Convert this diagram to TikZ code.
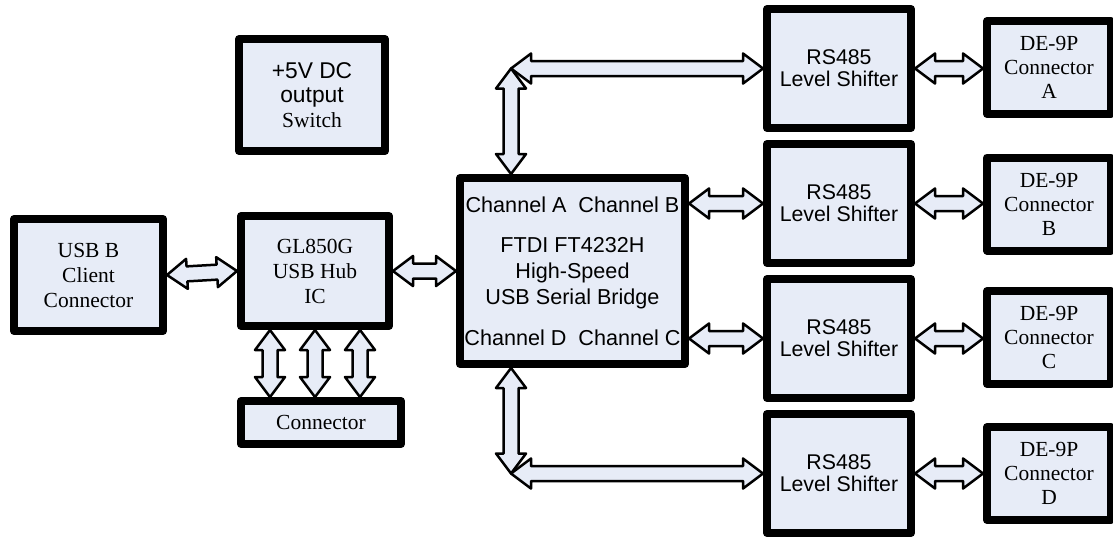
\documentclass[tikz,border=0pt]{standalone}
\usepackage{fontspec}
\setmainfont{Liberation Serif}
\newfontfamily\arialfont{Liberation Sans}
\usetikzlibrary{calc}
\definecolor{boxfill}{RGB}{231,236,247}

\begin{document}
\begin{tikzpicture}[
    x=1pt, y=-1pt,
    box/.style={draw, line width=8pt, line join=round, fill=boxfill, align=center, inner sep=2pt},
    serifbox/.style={box, font={\fontsize{21.5}{25}\selectfont}},
    sansbox/.style={box, font={\arialfont\fontsize{21.3}{22}\selectfont}},
    bus/.style={draw=black, fill=boxfill, line width=2.5pt, line join=round,
        to path={
            -- ($(\tikztostart)!20pt!(\tikztotarget)!15pt!90:(\tikztotarget)$)
            -- ($(\tikztostart)!20pt!(\tikztotarget)!7.5pt!90:(\tikztotarget)$)
            -- ($(\tikztotarget)!20pt!(\tikztostart)!7.5pt!-90:(\tikztostart)$)
            -- ($(\tikztotarget)!20pt!(\tikztostart)!15pt!-90:(\tikztostart)$)
            -- (\tikztotarget)
            -- ($(\tikztotarget)!20pt!(\tikztostart)!15pt!90:(\tikztostart)$)
            -- ($(\tikztotarget)!20pt!(\tikztostart)!7.5pt!90:(\tikztostart)$)
            -- ($(\tikztostart)!20pt!(\tikztotarget)!7.5pt!-90:(\tikztotarget)$)
            -- ($(\tikztostart)!20pt!(\tikztotarget)!15pt!-90:(\tikztotarget)$)
            -- cycle}}
]
\useasboundingbox (0,0) rectangle (1113,536);
\clip (0,0) rectangle (1113,536);

% USB side
\node[serifbox, minimum width=149pt, minimum height=112pt] (usbb) at (88.5,275) {USB B\\Client\\Connector};
\node[serifbox, minimum width=148pt, minimum height=110pt] (hub) at (315,271) {GL850G\\USB Hub\\IC};
\node[serifbox, minimum width=160pt, minimum height=43pt] (conn) at (321,422.5) {Connector};
\node[serifbox, minimum width=146pt, minimum height=112pt, font={\fontsize{21.5}{24.7}\selectfont}] (pwr) at (312,95)
    {{\arialfont\fontsize{22.8}{24.7}\selectfont +5V DC}\\{\arialfont\fontsize{22.8}{24.7}\selectfont output}\\Switch};

% FTDI bridge
\node[sansbox, minimum width=225pt, minimum height=186pt, font={\arialfont\fontsize{21.6}{26}\selectfont}] (ftdi) at (572.5,271)
    {Channel A~~Channel B\\[14pt]FTDI FT4232H\\High-Speed\\USB Serial Bridge\\[15pt]Channel D~~Channel C};

% RS485 level shifters
\node[sansbox, minimum width=144pt, minimum height=119pt] (rsA) at (839,68.5) {RS485\\Level Shifter};
\node[sansbox, minimum width=144pt, minimum height=119pt] (rsB) at (839,203.5) {RS485\\Level Shifter};
\node[sansbox, minimum width=144pt, minimum height=119pt] (rsC) at (839,338.5) {RS485\\Level Shifter};
\node[sansbox, minimum width=144pt, minimum height=119pt] (rsD) at (839,473.5) {RS485\\Level Shifter};

% DE-9P connectors
\node[serifbox, minimum width=124pt, minimum height=93pt, font={\fontsize{21.5}{24}\selectfont}] (deA) at (1049,67.5) {DE-9P\\Connector\\A};
\node[serifbox, minimum width=124pt, minimum height=93pt, font={\fontsize{21.5}{24}\selectfont}] (deB) at (1049,204) {DE-9P\\Connector\\B};
\node[serifbox, minimum width=124pt, minimum height=93pt, font={\fontsize{21.5}{24}\selectfont}] (deC) at (1049,337.5) {DE-9P\\Connector\\C};
\node[serifbox, minimum width=124pt, minimum height=93pt, font={\fontsize{21.5}{24}\selectfont}] (deD) at (1049,473.5) {DE-9P\\Connector\\D};

% Corner points
\coordinate (cA) at (511,68.5);
\coordinate (cD) at (511,473.5);
\coordinate (h1) at ([xshift=-45pt]hub.south);
\coordinate (h2) at (hub.south);
\coordinate (h3) at ([xshift=45pt]hub.south);

% Buses
\draw[bus] (usbb.east) to (hub.west);
\draw[bus] (hub.east) to (hub.east -| ftdi.west);
\draw[bus] (h1) to (h1 |- conn.north);
\draw[bus] (h2) to (h2 |- conn.north);
\draw[bus] (h3) to (h3 |- conn.north);

\draw[bus] (cA |- ftdi.north) to (cA);
\draw[bus] (cA) to (rsA.west);
\draw[bus] (ftdi.east |- rsB.west) to (rsB.west);
\draw[bus] (ftdi.east |- rsC.west) to (rsC.west);
\draw[bus] (cD |- ftdi.south) to (cD);
\draw[bus] (cD) to (rsD.west);

\draw[bus] (rsA.east) to (rsA.east -| deA.west);
\draw[bus] (rsB.east) to (rsB.east -| deB.west);
\draw[bus] (rsC.east) to (rsC.east -| deC.west);
\draw[bus] (rsD.east) to (rsD.east -| deD.west);

\end{tikzpicture}
\end{document}
